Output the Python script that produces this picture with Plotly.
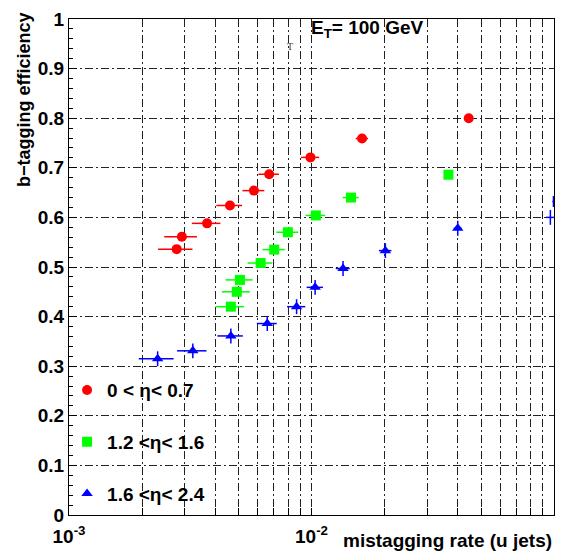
import plotly.graph_objects as go

# ---- data ----
x_eta1 = [2.78e-3, 2.92e-3, 3.71e-3, 4.61e-3, 5.79e-3, 6.69e-3, 9.9e-3, 1.616e-2, 4.45e-2]
y_eta1 = [0.536, 0.561, 0.588, 0.624, 0.654, 0.687, 0.721, 0.759, 0.800]
ex_eta1 = [0.45e-3, 0.45e-3, 0.5e-3, 0.56e-3, 0.6e-3, 0.65e-3, 0.85e-3, 0.95e-3, 1.0e-3]
ey_eta1 = [0.006] * 9

x_eta2 = [4.65e-3, 4.92e-3, 5.07e-3, 6.17e-3, 7.02e-3, 7.99e-3, 1.042e-2, 1.455e-2, 3.67e-2]
y_eta2 = [0.420, 0.450, 0.474, 0.508, 0.535, 0.570, 0.604, 0.640, 0.686]
ex_eta2 = [0.62e-3, 0.65e-3, 0.65e-3, 0.72e-3, 0.74e-3, 0.83e-3, 0.97e-3, 1.1e-3, 1.0e-3]
ey_eta2 = [0.006] * 9

x_eta3 = [2.32e-3, 3.24e-3, 4.65e-3, 6.57e-3, 8.68e-3, 1.035e-2, 1.349e-2, 2.016e-2, 4.01e-2]
y_eta3 = [0.315, 0.331, 0.361, 0.386, 0.420, 0.459, 0.497, 0.533, 0.578]
ex_eta3 = [0.38e-3, 0.45e-3, 0.56e-3, 0.62e-3, 0.75e-3, 0.8e-3, 0.9e-3, 1.2e-3, 1.5e-3]
ey_eta3 = [0.015] * 9

# points at the right edge (only error bars visible)
x_edge = [0.0966, 0.0995]
y_edge = [0.600, 0.632]
ex_edge = [0.004, 0.001]
ey_edge = [0.015, 0.011]

labels = ["0 &lt; η&lt; 0.7", "1.2 &lt;η&lt; 1.6", "1.6 &lt;η&lt; 2.4"]

# x-axis grid positions (log decades)
x_grid = [m * 10.0 ** e for e in (-3, -2) for m in range(1, 10)] + [0.1]
x_ticktext = ["10<sup>-3</sup>" if v == 1e-3 else ("10<sup>-2</sup>" if v == 1e-2 else "") for v in x_grid]

FONT = "Liberation Sans, Arial, sans-serif"
RED, GREEN, BLUE = "#FF0000", "#00FF00", "#0000FF"

fig = go.Figure()

def add_series(x, y, ex, ey, color, symbol, name, group, show=True, opacity=1.0):
    fig.add_trace(go.Scatter(
        x=x, y=y, mode="markers", name=name, legendgroup=group, showlegend=show,
        marker=dict(color=color, symbol=symbol, size=10, opacity=opacity, line=dict(width=0)),
        error_x=dict(type="data", array=ex, color=color, thickness=1.5, width=0),
        error_y=dict(type="data", array=ey, color=color, thickness=1.5, width=0),
    ))

add_series(x_eta1, y_eta1, ex_eta1, ey_eta1, RED, "circle", labels[0], "g1")
add_series(x_eta2, y_eta2, ex_eta2, ey_eta2, GREEN, "square", labels[1], "g2")
add_series(x_eta3, y_eta3, ex_eta3, ey_eta3, BLUE, "triangle-up", labels[2], "g3")
add_series(x_edge, y_edge, ex_edge, ey_edge, BLUE, "triangle-up", "edge", "g4", show=False, opacity=0)

griddash = "8px,3px,2px,3px"
gridcolor = "#222222"

fig.update_layout(
    width=564, height=558,
    margin=dict(l=69, r=9, t=12, b=43),
    paper_bgcolor="white", plot_bgcolor="white",
    font=dict(family=FONT, size=18, color="black"),
    showlegend=True,
    legend=dict(
        x=-0.004, y=0.29, xanchor="left", yanchor="top",
        bgcolor="rgba(0,0,0,0)", borderwidth=0,
        font=dict(family=FONT, size=19, color="black", weight="bold"),
        tracegroupgap=24, itemsizing="trace",
    ),
    xaxis=dict(
        type="log", range=[-3, -1],
        tickmode="array", tickvals=x_grid, ticktext=x_ticktext,
        ticks="inside", ticklen=7, tickcolor="black", ticklabelstandoff=4,
        tickfont=dict(family=FONT, size=19, weight="bold"),
        showgrid=True, gridcolor=gridcolor, griddash=griddash, gridwidth=1,
        showline=True, linecolor="black", linewidth=1, mirror=True,
        zeroline=False,
    ),
    yaxis=dict(
        range=[0, 1], dtick=0.1, tick0=0,
        ticks="inside", ticklen=8, tickcolor="black",
        tickfont=dict(family=FONT, size=19, weight="bold"),
        showgrid=True, gridcolor=gridcolor, griddash=griddash, gridwidth=1,
        showline=True, linecolor="black", linewidth=1, mirror=True,
        zeroline=False,
        minor=dict(dtick=0.02, ticks="inside", ticklen=4, tickcolor="black", showgrid=False),
    ),
    annotations=[
        dict(text="<b>E<sub>T</sub>= 100 GeV</b>", xref="paper", yref="paper",
             x=0.495, y=1.008, xanchor="left", yanchor="top", showarrow=False,
             font=dict(family=FONT, size=19, color="black")),
        dict(text="T", xref="paper", yref="paper", x=0.455, y=0.944,
             xanchor="center", yanchor="middle", showarrow=False,
             font=dict(family="Liberation Serif, serif", size=10, color="#444444")),
        dict(text="<b>mistagging rate (u jets)</b>", xref="paper", yref="paper",
             x=1.0, y=-0.027, xanchor="right", yanchor="top", showarrow=False,
             font=dict(family=FONT, size=19, color="black")),
        dict(text="<b>b−tagging efficiency</b>", xref="paper", yref="paper",
             x=-0.094, y=1.018, xanchor="center", yanchor="top", textangle=-90,
             showarrow=False, font=dict(family=FONT, size=18, color="black")),
    ],
)

fig.write_html(
    "out.html",
    config={"displayModeBar": False},
    post_script="document.body.style.margin='0';document.body.style.overflow='hidden';",
)
